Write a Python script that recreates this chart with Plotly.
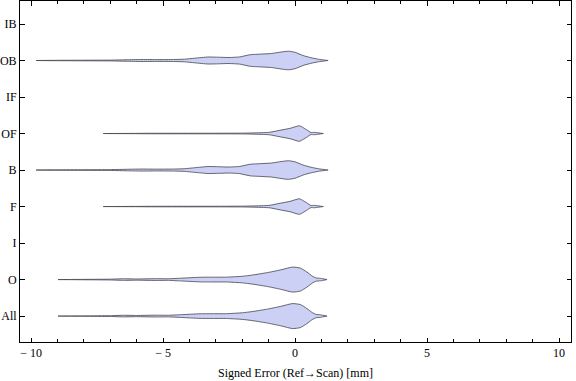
import plotly.graph_objects as go

# Categories (bottom to top)
categories = ["All", "O", "I", "F", "B", "OF", "IF", "OB", "IB"]

# Density profiles (x in mm, relative density)
ob_x = [-9.81, -9.0, -8.0, -7.0, -6.3, -5.8, -5.2, -4.6, -4.2, -3.8, -3.3, -2.9, -2.5, -2.1,
        -1.7, -1.3, -0.9, -0.5, -0.25, 0.0, 0.3, 0.6, 0.9, 1.25]
ob_d = [0.0, 0.2, 0.3, 0.4, 0.8, 1.0, 0.9, 1.0, 1.3, 2.3, 3.5, 3.3, 3.0, 3.6,
        5.8, 6.4, 7.0, 8.6, 9.3, 8.2, 5.0, 2.8, 1.2, 0.0]

of_x = [-7.27, -6.0, -5.5, -3.0, -2.0, -1.6, -1.2, -0.95, -0.57, -0.19, 0.16, 0.3, 0.44, 0.6,
        0.72, 0.85, 1.07]
of_d = [0.0, 0.15, 0.25, 0.3, 0.4, 0.6, 0.9, 1.3, 3.3, 5.2, 7.8, 6.0, 3.7, 1.0,
        1.2, 0.8, 0.0]

o_x = [-8.98, -8.0, -7.0, -6.5, -6.0, -5.3, -4.8, -4.3, -3.6, -3.1, -2.6, -2.0, -1.6, -1.0,
       -0.5, -0.1, 0.2, 0.45, 0.65, 0.8, 0.95, 1.21]
o_d = [0.0, 0.2, 0.4, 0.8, 0.6, 0.9, 0.8, 1.4, 2.3, 2.4, 2.4, 3.3, 4.6, 7.2,
       10.0, 12.5, 11.5, 7.5, 3.5, 1.6, 1.3, 0.0]

series = {
    "All": (o_x, o_d),
    "O": (o_x, o_d),
    "F": (of_x, of_d),
    "B": (ob_x, ob_d),
    "OF": (of_x, of_d),
    "OB": (ob_x, ob_d),
}

x_ticks = [-10, -5, 0, 5, 10]
WIDTH = 1 / 36.5

fig = go.Figure()
for cat, (xs, ds) in series.items():
    c = categories.index(cat) + 1
    px = list(xs) + list(xs[::-1])
    py = [c + d * WIDTH for d in ds] + [c - d * WIDTH for d in ds[::-1]]
    fig.add_trace(go.Scatter(
        x=px, y=py, mode="lines", fill="toself",
        fillcolor="rgb(203,208,244)",
        line=dict(color="rgba(70,70,80,0.9)", width=0.9, shape="spline", smoothing=0.5),
        showlegend=False, hoverinfo="skip"))

FONT = dict(family="Liberation Serif", size=12, color="black")
axis_common = dict(
    showgrid=False, zeroline=False, showline=True, linecolor="black", linewidth=1,
    mirror="allticks", ticks="inside", tickcolor="black", automargin=False,
    tickfont=FONT,
)

fig.update_xaxes(
    range=[-10.42, 10.45], tickvals=x_ticks, ticktext=[str(v).replace("-", "\u2212 ") for v in x_ticks],
    ticklen=4.5, tickwidth=1,
    minor=dict(dtick=1, tick0=0, ticks="inside", ticklen=3, tickcolor="black", tickwidth=1),
    title=dict(text="Signed Error (Ref\u2192Scan) [mm]", font=FONT, standoff=9),
    **axis_common)
fig.update_yaxes(
    range=[0.29, 9.63], tickvals=list(range(1, len(categories) + 1)), ticktext=categories,
    ticklen=4.5, tickwidth=1, **axis_common)

fig.update_layout(
    width=576, height=381,
    margin=dict(l=20, r=5, t=1, b=39),
    plot_bgcolor="white", paper_bgcolor="white",
)

fig.write_html(
    "out.html",
    config={"displayModeBar": False},
    post_script="document.body.style.margin='0';document.body.style.overflow='hidden';",
)
